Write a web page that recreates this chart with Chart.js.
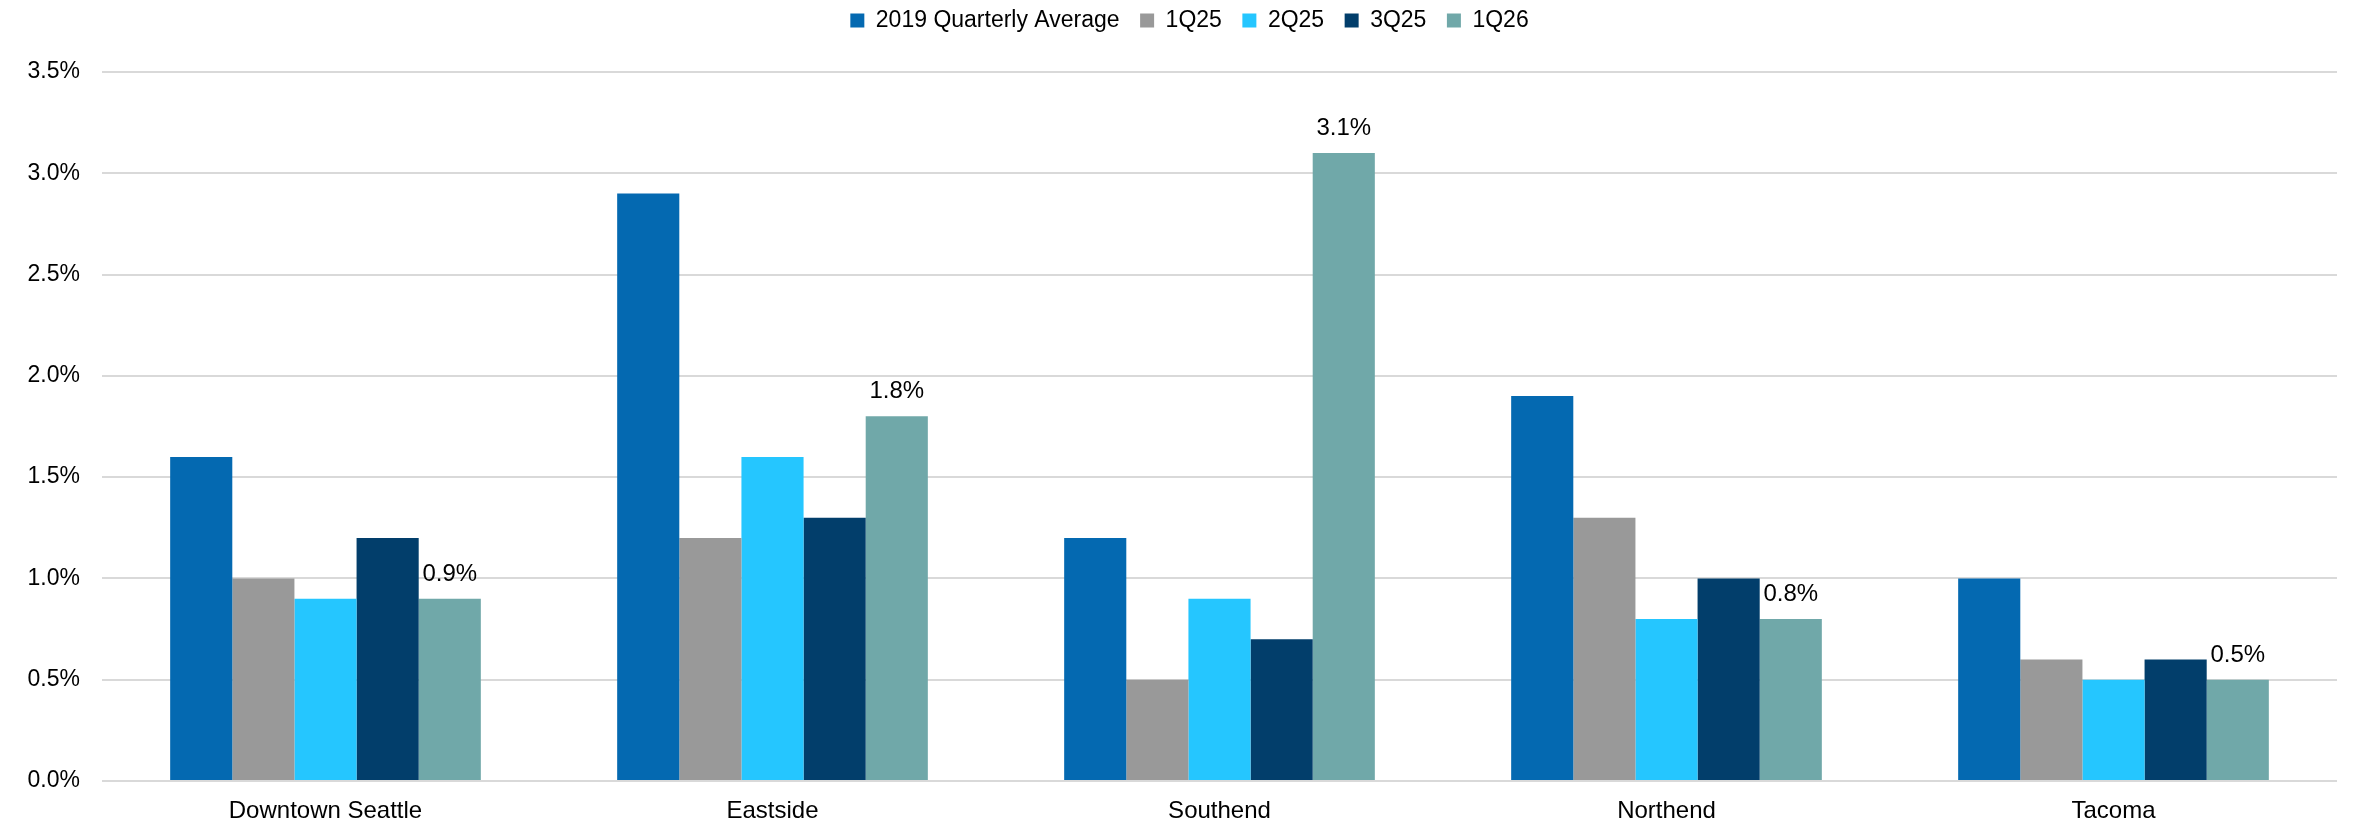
<!DOCTYPE html>
<html>
<head>
<meta charset="utf-8">
<script src="https://cdn.jsdelivr.net/npm/chart.js@4.4.1/dist/chart.umd.min.js"></script>
<style>
  html, body { margin: 0; padding: 0; background: #fff; }
  body { background: linear-gradient(to right, #f2f2f2 0, #f2f2f2 8px, #fff 8px); }
  #wrap { position: absolute; left: 0; top: 0; width: 2364px; height: 820px; }
</style>
</head>
<body>
<div id="wrap"><canvas id="chart" width="2364" height="820"></canvas></div>
<script>
const categories = ['Downtown Seattle', 'Eastside', 'Southend', 'Northend', 'Tacoma'];
const seriesNames = ['2019 Quarterly Average', '1Q25', '2Q25', '3Q25', '1Q26'];
const avg2019 = [1.6, 2.9, 1.2, 1.9, 1.0];
const q1_25 = [1.0, 1.2, 0.5, 1.3, 0.6];
const q2_25 = [0.9, 1.6, 0.9, 0.8, 0.5];
const q3_25 = [1.2, 1.3, 0.7, 1.0, 0.6];
const q1_26 = [0.9, 1.8, 3.1, 0.8, 0.5];
const yTicks = [0, 0.5, 1.0, 1.5, 2.0, 2.5, 3.0, 3.5];

const colors = ['#0469b1', '#999999', '#25c6ff', '#023e6b', '#70a8a9'];
const FONT = '"Liberation Sans", Arial, sans-serif';

// value labels only on the 1Q26 bars
const barLabels = {
  id: 'barLabels',
  afterDatasetsDraw(chart) {
    const ctx = chart.ctx;
    const meta = chart.getDatasetMeta(4);
    ctx.save();
    ctx.font = '24px ' + FONT;
    ctx.fillStyle = '#000';
    ctx.textAlign = 'center';
    ctx.textBaseline = 'alphabetic';
    meta.data.forEach((bar, i) => {
      ctx.fillText(q1_26[i].toFixed(1) + '%', bar.x, bar.y - 18);
    });
    ctx.restore();
  },
};

// leave room between legend and plot, nudge legend a bit right
const legendGap = {
  id: 'legendGap',
  beforeInit(chart) {
    const fit = chart.legend.fit;
    chart.legend.fit = function () {
      fit.bind(chart.legend)();
      this.height += 30;
    };
  },
  afterLayout(chart) {
    chart.legend.left += 42;
  },
};

const allSeries = [avg2019, q1_25, q2_25, q3_25, q1_26];

new Chart(document.getElementById('chart'), {
  type: 'bar',
  data: {
    labels: categories,
    datasets: allSeries.map((vals, i) => ({
      label: seriesNames[i],
      data: vals,
      backgroundColor: colors[i],
      borderWidth: 0,
      categoryPercentage: 0.695,
      barPercentage: 1,
    })),
  },
  options: {
    responsive: false,
    animation: false,
    devicePixelRatio: 1,
    layout: { padding: { left: 0, right: 27, top: -11.5, bottom: 0 } },
    scales: {
      x: {
        grid: { display: false },
        border: { display: false },
        ticks: { color: '#000', font: { family: FONT, size: 24 }, padding: 8, maxRotation: 0 },
        afterFit: (s) => { s.height = 39; },
      },
      y: {
        min: 0,
        max: 3.5,
        afterBuildTicks: (s) => { s.ticks = yTicks.map((v) => ({ value: v })); },
        grid: { color: '#d9d9d9', lineWidth: 2, drawTicks: false },
        border: { display: false },
        ticks: {
          color: '#000',
          font: { family: FONT, size: 23 },
          padding: 22,
          callback: (v) => v.toFixed(1) + '%',
        },
        afterFit: (s) => { s.width = 102; },
      },
    },
    plugins: {
      legend: {
        position: 'top',
        labels: {
          color: '#000',
          font: { family: FONT, size: 23 },
          boxWidth: 14,
          boxHeight: 14,
          padding: 20.5,
        },
      },
      tooltip: { enabled: false },
    },
  },
  plugins: [barLabels, legendGap],
});
</script>
</body>
</html>
